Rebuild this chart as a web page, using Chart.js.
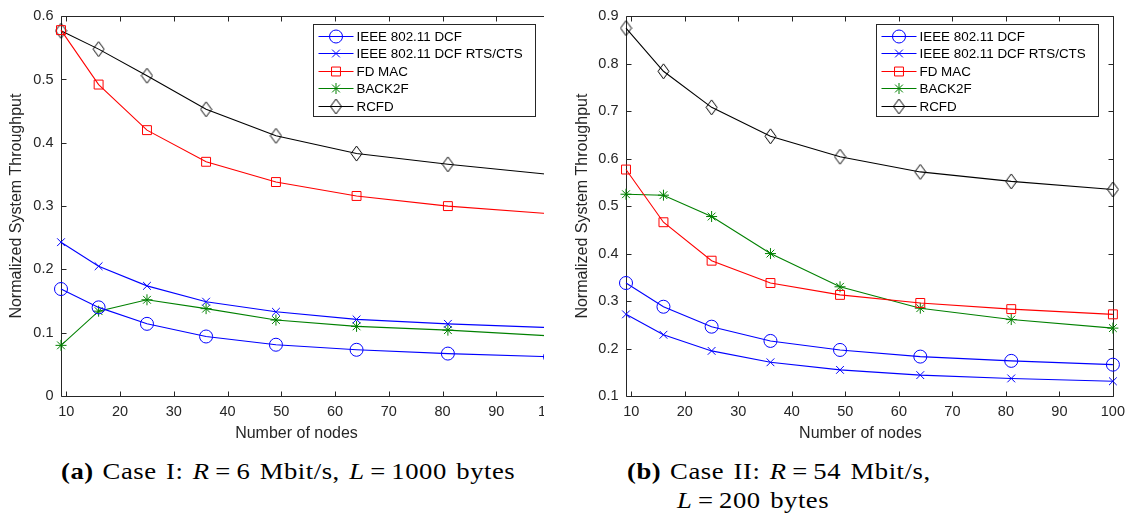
<!DOCTYPE html>
<html>
<head>
<meta charset="utf-8">
<script src="https://cdn.jsdelivr.net/npm/chart.js@4"></script>
<style>
  body { margin: 0; background: #fff; width: 1132px; height: 515px; position: relative; overflow: hidden; }
  .wrap { position: absolute; top: 0; height: 450px; overflow: hidden; }
  .cap { position: absolute; font-family: "Liberation Serif", "Times New Roman", serif; font-size: 24px; letter-spacing: 0.5px; word-spacing: 2px; color: #000; white-space: nowrap; line-height: 28px; transform: scaleX(1.11); transform-origin: 0 0; }
  .cap b { font-weight: bold; margin-right: 8px; }
  .cap .eq { margin: 0 5px; }
</style>
</head>
<body>
<div class="wrap" style="left:0;width:544px"><canvas id="caseI" width="575" height="450"></canvas></div>
<div class="wrap" style="left:566px;width:566px"><canvas id="caseII" width="566" height="450"></canvas></div>
<div class="cap" style="left:61px;top:457px"><b>(a)</b>Case I: <i>R</i><span class="eq">=</span>6 Mbit/s, <i>L</i><span class="eq">=</span>1000 bytes</div>
<div class="cap" style="left:627px;top:457px"><b>(b)</b>Case II: <i>R</i><span class="eq">=</span>54 Mbit/s,</div>
<div class="cap" style="left:677px;top:486px"><i>L</i><span class="eq">=</span>200 bytes</div>
<script>
// number of nodes at which the throughput was evaluated
const nodes = [9, 16, 25, 36, 49, 64, 81, 100];
const xTicks = [10, 20, 30, 40, 50, 60, 70, 80, 90, 100];

const seriesNames = ['IEEE 802.11 DCF', 'IEEE 802.11 DCF RTS/CTS', 'FD MAC', 'BACK2F', 'RCFD'];

// Case I: R = 6 Mbit/s, L = 1000 bytes
const dcfI    = [0.169, 0.140, 0.114, 0.094, 0.081, 0.073, 0.067, 0.062];
const rtsI    = [0.243, 0.205, 0.174, 0.149, 0.133, 0.121, 0.114, 0.108];
const fdmacI  = [0.578, 0.492, 0.420, 0.370, 0.338, 0.316, 0.300, 0.288];
const back2fI = [0.080, 0.134, 0.152, 0.138, 0.120, 0.110, 0.104, 0.095];
const rcfdI   = [0.577, 0.548, 0.506, 0.453, 0.411, 0.383, 0.366, 0.350];
const yTicksI = [0, 0.1, 0.2, 0.3, 0.4, 0.5, 0.6];

// Case II: R = 54 Mbit/s, L = 200 bytes
const dcfII    = [0.338, 0.288, 0.246, 0.216, 0.197, 0.183, 0.174, 0.166];
const rtsII    = [0.272, 0.229, 0.195, 0.171, 0.155, 0.144, 0.137, 0.131];
const fdmacII  = [0.577, 0.466, 0.385, 0.338, 0.313, 0.296, 0.283, 0.272];
const back2fII = [0.525, 0.523, 0.478, 0.400, 0.330, 0.285, 0.261, 0.243];
const rcfdII   = [0.875, 0.784, 0.708, 0.647, 0.604, 0.572, 0.552, 0.535];
const yTicksII = [0.1, 0.2, 0.3, 0.4, 0.5, 0.6, 0.7, 0.8, 0.9];

const xTitle = 'Number of nodes';
const yTitle = 'Normalized System Throughput';

const axisColor = '#262626';
const sans = '"Liberation Sans", Arial, sans-serif';

// MATLAB-like diamond: a bit taller than wide
function makeDiamond(w, h, color) {
  const c = document.createElement('canvas');
  c.width = w + 2;
  c.height = h + 2;
  const g = c.getContext('2d');
  g.strokeStyle = color;
  g.lineWidth = 1;
  g.beginPath();
  g.moveTo(c.width / 2, 1);
  g.lineTo(c.width - 1, c.height / 2);
  g.lineTo(c.width / 2, c.height - 1);
  g.lineTo(1, c.height / 2);
  g.closePath();
  g.stroke();
  return c;
}

const seriesColors = ['#0000ff', '#0000ff', '#ff0000', '#008000', '#000000'];
const pointStyles = ['circle', 'crossRot', 'rect', 'star', makeDiamond(11, 15, '#000000')];
const pointRadii = [6.5, 5.5, 6.3, 5.5, 7];

// axes box with inward tick marks on all four sides, plus the x label
const axesBox = {
  id: 'axesBox',
  beforeDatasetsDraw(chart) {
    const { ctx, chartArea: a, scales: { x, y } } = chart;
    const len = 5;
    const al = v => Math.round(v) + 0.5;
    ctx.save();
    ctx.strokeStyle = axisColor;
    ctx.lineWidth = 1;
    ctx.beginPath();
    ctx.rect(al(a.left), al(a.top), Math.round(a.right - a.left), Math.round(a.bottom - a.top));
    x.ticks.forEach(t => {
      const px = al(x.getPixelForValue(t.value));
      ctx.moveTo(px, al(a.bottom));
      ctx.lineTo(px, al(a.bottom) - len);
      ctx.moveTo(px, al(a.top));
      ctx.lineTo(px, al(a.top) + len);
    });
    y.ticks.forEach(t => {
      const py = al(y.getPixelForValue(t.value));
      ctx.moveTo(al(a.left), py);
      ctx.lineTo(al(a.left) + len, py);
      ctx.moveTo(al(a.right), py);
      ctx.lineTo(al(a.right) - len, py);
    });
    ctx.stroke();

    ctx.fillStyle = axisColor;
    ctx.font = '16px ' + sans;
    ctx.textAlign = 'center';
    ctx.textBaseline = 'middle';
    ctx.fillText(xTitle, (a.left + a.right) / 2 - 9, 434);
    ctx.restore();
  }
};

// boxed legend in the upper right corner, line sample with marker
const boxLegend = {
  id: 'boxLegend',
  afterDraw(chart) {
    const { ctx, chartArea: a } = chart;
    const w = 222, h = 92;
    const left = Math.round(a.right - 15 - w) + 0.5;
    const top = 24.5;
    ctx.save();
    ctx.fillStyle = '#fff';
    ctx.fillRect(left, top, w, h);
    ctx.strokeStyle = axisColor;
    ctx.lineWidth = 1;
    ctx.strokeRect(left, top, w, h);
    ctx.font = '13.4px ' + sans;
    ctx.textBaseline = 'middle';
    chart.data.datasets.forEach((ds, i) => {
      const cy = Math.round(top + 11 + i * 17.5) + 0.5;
      ctx.strokeStyle = ds.borderColor;
      ctx.beginPath();
      ctx.moveTo(left + 5, cy);
      ctx.lineTo(left + 40, cy);
      ctx.stroke();
      ctx.fillStyle = 'rgba(0,0,0,0)';
      Chart.helpers.drawPoint(ctx, { pointStyle: ds.pointStyle, radius: ds.pointRadius, rotation: 0, borderWidth: 1 }, left + 22.5, cy);
      ctx.fillStyle = '#000';
      ctx.fillText(ds.label, left + 43, cy + 1);
    });
    ctx.restore();
  }
};

const fmt = v => String(+Number(v).toFixed(1));

function makeChart(id, series, yMin, yMax, yTicks, yWidth, padRight) {
  return new Chart(document.getElementById(id), {
    type: 'line',
    data: {
      datasets: series.map((vals, i) => ({
        label: seriesNames[i],
        data: nodes.map((n, k) => ({ x: n, y: vals[k] })),
        borderColor: seriesColors[i],
        borderWidth: 1.1,
        pointStyle: pointStyles[i],
        pointRadius: pointRadii[i],
        pointBorderColor: seriesColors[i],
        pointBackgroundColor: 'rgba(0,0,0,0)',
        pointBorderWidth: 1,
        tension: 0,
        clip: false
      }))
    },
    options: {
      responsive: false,
      animation: false,
      events: [],
      layout: { padding: { top: 9, right: padRight, bottom: 0, left: 0 } },
      plugins: { legend: { display: false }, tooltip: { enabled: false } },
      scales: {
        x: {
          type: 'linear',
          min: 9,
          max: 100,
          afterBuildTicks: s => { s.ticks = xTicks.map(v => ({ value: v })); },
          afterFit: s => { s.height = 54; },
          grid: { display: false, drawTicks: false },
          border: { display: false },
          ticks: { padding: 7, color: axisColor, font: { family: sans, size: 14.5 }, autoSkip: false, maxRotation: 0 }
        },
        y: {
          min: yMin,
          max: yMax,
          afterBuildTicks: s => { s.ticks = yTicks.map(v => ({ value: v })); },
          afterFit: s => { s.width = yWidth; },
          grid: { display: false, drawTicks: false },
          border: { display: false },
          ticks: { padding: 7.5, color: axisColor, font: { family: sans, size: 14.5 }, callback: fmt },
          title: { display: true, text: yTitle, color: axisColor, font: { family: sans, size: 16 }, padding: { top: 7, bottom: 0 } }
        }
      }
    },
    plugins: [axesBox, boxLegend]
  });
}

makeChart('caseI', [dcfI, rtsI, fdmacI, back2fI, rcfdI], 0, 0.6, yTicksI, 61, 25);
makeChart('caseII', [dcfII, rtsII, fdmacII, back2fII, rcfdII], 0.1, 0.9, yTicksII, 60, 17);
</script>
</body>
</html>
